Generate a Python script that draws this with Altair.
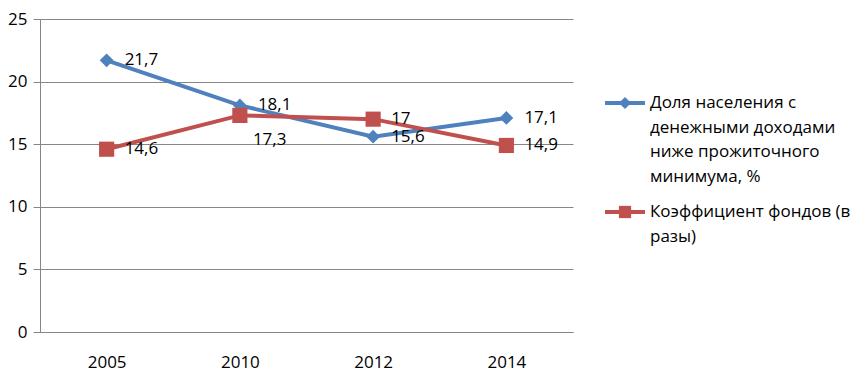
import altair as alt
import pandas as pd

years = ["2005", "2010", "2012", "2014"]
poverty_share = [21.7, 18.1, 15.6, 17.1]
funds_ratio = [14.6, 17.3, 17.0, 14.9]
series_names = [
    "Доля населения с денежными доходами ниже прожиточного минимума, %",
    "Коэффициент фондов (в разы)",
]
legend_lines = [
    ["Доля населения с", "денежными доходами", "ниже прожиточного", "минимума, %"],
    ["Коэффициент фондов (в", "разы)"],
]
y_ticks = [0, 5, 10, 15, 20, 25]
colors = ["#4F81BD", "#C0504D"]
shapes = ["diamond", "square"]

rows = []
for y, v in zip(years, poverty_share):
    rows.append({"year": y, "value": v, "series": series_names[0]})
for y, v in zip(years, funds_ratio):
    rows.append({"year": y, "value": v, "series": series_names[1]})
df = pd.DataFrame(rows)

FONT = "Open Sans"
FS = 17

W, H = 533, 313

color_scale = alt.Scale(domain=series_names, range=colors)
x_enc = alt.X(
    "year:N",
    sort=years,
    scale=alt.Scale(padding=0.5),
    axis=alt.Axis(
        title=None, labelAngle=0, ticks=False, domain=True, domainColor="#868686",
        labelPadding=22, labelFont=FONT, labelFontSize=FS, labelColor="#000", grid=False,
    ),
)
y_enc = alt.Y(
    "value:Q",
    scale=alt.Scale(domain=[0, 25], nice=False, zero=True),
    axis=alt.Axis(
        title=None, values=y_ticks, tickSize=7, tickColor="#868686", domainColor="#868686",
        gridColor="#868686", labelPadding=6, labelFont=FONT, labelFontSize=FS,
        labelColor="#000",
    ),
)

base = alt.Chart(df)

lines = base.mark_line(strokeWidth=4).encode(
    x=x_enc, y=y_enc, color=alt.Color("series:N", scale=color_scale, legend=None)
)

pts = []
for name, shp, sz in zip(series_names, shapes, [190, 230]):
    pts.append(
        base.transform_filter(alt.datum.series == name)
        .mark_point(shape=shp, filled=True, opacity=1, size=sz)
        .encode(x="year:N", y="value:Q",
                color=alt.Color("series:N", scale=color_scale, legend=None))
    )

label_base = base.transform_calculate(
    lab="replace(toString(datum.value), '.', ',')"
)
labels_main = label_base.transform_filter(
    "!(datum.series == '%s' && datum.year == '2010')" % series_names[1]
).mark_text(align="left", baseline="middle", dx=18, font=FONT, fontSize=FS, color="#000").encode(
    x="year:N", y="value:Q", text="lab:N"
)
labels_below = label_base.transform_filter(
    "datum.series == '%s' && datum.year == '2010'" % series_names[1]
).mark_text(align="left", baseline="middle", dx=13, dy=25, font=FONT, fontSize=FS, color="#000").encode(
    x="year:N", y="value:Q", text="lab:N"
)

# manual legend (single-row data so each mark is drawn once)
one = pd.DataFrame({"k": [0]})
leg_layers = []
leg_y = [84, 193]
for i in range(2):
    ly = leg_y[i]
    leg_layers.append(
        alt.Chart(one).mark_rule(strokeWidth=4, color=colors[i]).encode(
            x=alt.value(565), x2=alt.value(605), y=alt.value(ly)
        )
    )
    leg_layers.append(
        alt.Chart(one).mark_point(shape=shapes[i], filled=True, opacity=1, size=150, color=colors[i]).encode(
            x=alt.value(585), y=alt.value(ly)
        )
    )
    leg_layers.append(
        alt.Chart(one).mark_text(
            align="left", baseline="middle", font=FONT, fontSize=FS, color="#000",
            lineBreak="\n", lineHeight=24.5,
        ).encode(
            x=alt.value(610), y=alt.value(ly),
            text=alt.value("\n".join(legend_lines[i]))
        )
    )

chart = alt.layer(lines, *pts, labels_main, labels_below, *leg_layers).properties(
    width=W, height=H,
    autosize=alt.AutoSizeParams(type="none"),
    padding={"left": 32, "top": 11, "right": 285, "bottom": 40},
).configure_view(strokeWidth=0)

chart.save("out.html", embed_options={"renderer": "svg", "actions": False})
